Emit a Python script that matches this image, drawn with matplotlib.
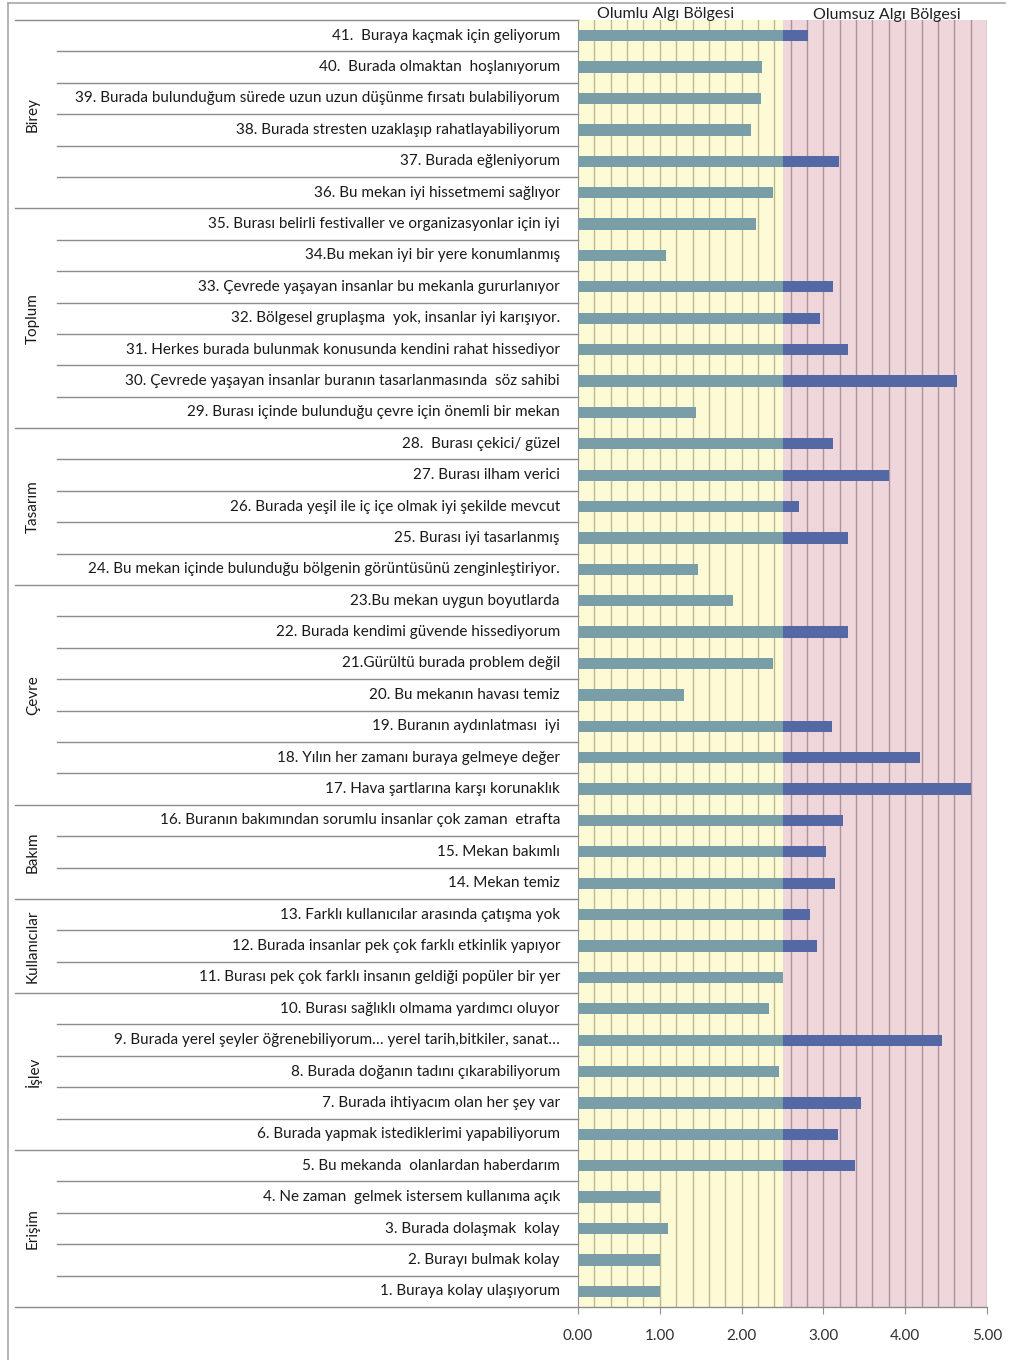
import numpy as np
import matplotlib
matplotlib.use("Agg")
import matplotlib.pyplot as plt
from matplotlib.transforms import blended_transform_factory

plt.rcParams['font.family'] = ['Lato', 'DejaVu Sans']

# --- data: item 1 .. 41 (bottom to top) ---
items = [
    "1. Buraya kolay ulaşıyorum",
    "2. Burayı bulmak kolay",
    "3. Burada dolaşmak  kolay",
    "4. Ne zaman  gelmek istersem kullanıma açık",
    "5. Bu mekanda  olanlardan haberdarım",
    "6. Burada yapmak istediklerimi yapabiliyorum",
    "7. Burada ihtiyacım olan her şey var",
    "8. Burada doğanın tadını çıkarabiliyorum",
    "9. Burada yerel şeyler öğrenebiliyorum… yerel tarih,bitkiler, sanat…",
    "10. Burası sağlıklı olmama yardımcı oluyor",
    "11. Burası pek çok farklı insanın geldiği popüler bir yer",
    "12. Burada insanlar pek çok farklı etkinlik yapıyor",
    "13. Farklı kullanıcılar arasında çatışma yok",
    "14. Mekan temiz",
    "15. Mekan bakımlı",
    "16. Buranın bakımından sorumlu insanlar çok zaman  etrafta",
    "17. Hava şartlarına karşı korunaklık",
    "18. Yılın her zamanı buraya gelmeye değer",
    "19. Buranın aydınlatması  iyi",
    "20. Bu mekanın havası temiz",
    "21.Gürültü burada problem değil",
    "22. Burada kendimi güvende hissediyorum",
    "23.Bu mekan uygun boyutlarda",
    "24. Bu mekan içinde bulunduğu bölgenin görüntüsünü zenginleştiriyor.",
    "25. Burası iyi tasarlanmış",
    "26. Burada yeşil ile iç içe olmak iyi şekilde mevcut",
    "27. Burası ilham verici",
    "28.  Burası çekici/ güzel",
    "29. Burası içinde bulunduğu çevre için önemli bir mekan",
    "30. Çevrede yaşayan insanlar buranın tasarlanmasında  söz sahibi",
    "31. Herkes burada bulunmak konusunda kendini rahat hissediyor",
    "32. Bölgesel gruplaşma  yok, insanlar iyi karışıyor.",
    "33. Çevrede yaşayan insanlar bu mekanla gururlanıyor",
    "34.Bu mekan iyi bir yere konumlanmış",
    "35. Burası belirli festivaller ve organizasyonlar için iyi",
    "36. Bu mekan iyi hissetmemi sağlıyor",
    "37. Burada eğleniyorum",
    "38. Burada stresten uzaklaşıp rahatlayabiliyorum",
    "39. Burada bulunduğum sürede uzun uzun düşünme fırsatı bulabiliyorum",
    "40.  Burada olmaktan  hoşlanıyorum",
    "41.  Buraya kaçmak için geliyorum",
]
values = [1.00, 1.00, 1.10, 1.00, 3.39, 3.18, 3.46, 2.46, 4.45, 2.33,
          2.51, 2.92, 2.84, 3.14, 3.03, 3.24, 4.80, 4.18, 3.10, 1.30,
          2.38, 3.30, 1.90, 1.47, 3.30, 2.70, 3.80, 3.12, 1.44, 4.63,
          3.30, 2.96, 3.12, 1.08, 2.17, 2.38, 3.19, 2.11, 2.24, 2.25,
          2.81]
groups = ["Erişim", "İşlev", "Kullanıcılar", "Bakım", "Çevre", "Tasarım", "Toplum", "Birey"]
group_sizes = [5, 5, 3, 3, 7, 5, 7, 6]

split = 2.5
teal = '#7a9ea8'
blue = '#5468a6'

W, H = 1010, 1360
fig = plt.figure(figsize=(W / 100, H / 100), dpi=100)
ax = fig.add_axes([578 / W, 1 - 1307 / H, (987 - 578) / W, (1307 - 20) / H])

n = len(values)
y = np.arange(1, n + 1)
ax.set_xlim(0, 5)
ax.set_ylim(0.5, n + 0.5)

# background zones
ax.axvspan(0, split, color='#fdfbd6', zorder=0, lw=0)
ax.axvspan(split, 5, color='#efd6db', zorder=0, lw=0)
for g in np.arange(0.2, 5.01, 0.2):
    c = '#bdb993' if g < split else '#ab939e'
    ax.axvline(g, color=c, lw=1, zorder=1)

v = np.array(values)
ax.barh(y, np.minimum(v, split), height=0.36, color=teal, zorder=3)
ax.barh(y, np.clip(v - split, 0, None), left=split, height=0.36, color=blue, zorder=3)

ax.set_yticks([])
ax.set_xticks(np.arange(0, 5.01, 1))
ax.set_xticklabels([f"{t:.2f}" for t in np.arange(0, 5.01, 1)], fontsize=11, color='#303030')
ax.tick_params(axis='x', length=5, color='#909090', pad=11)
for s in ['top', 'right']:
    ax.spines[s].set_visible(False)
ax.spines['left'].set_color('#909090')
ax.spines['bottom'].set_visible(False)

# zone titles
tb = blended_transform_factory(ax.transData, fig.transFigure)
ax.text(1.07, 1 - 14 / H, "Olumlu Algı Bölgesi", transform=tb, ha='center', va='center',
        fontsize=11.5, color='#202020')
ax.text(3.77, 1 - 15 / H, "Olumsuz Algı Bölgesi", transform=tb, ha='center', va='center',
        fontsize=11.5, color='#202020')

# left table: labels and lines
tr = blended_transform_factory(fig.transFigure, ax.transData)
for yi, lab in zip(y, items):
    ax.text(560 / W, yi, lab, transform=tr, ha='right', va='center', fontsize=11,
            color='#1a1a1a', clip_on=False)

line_c = '#8c8c8c'
bounds = np.cumsum([0] + group_sizes)
group_edges = set(bounds.tolist())
for k in range(0, n + 1):
    yy = k + 0.5
    x0 = 15 / W if k in group_edges else 57 / W
    x1 = 987 / W if k == 0 else 578 / W
    ax.plot([x0, x1], [yy, yy], transform=tr, color=line_c, lw=1, clip_on=False)

for gname, b0, b1 in zip(groups, bounds[:-1], bounds[1:]):
    ax.text(33 / W, (b0 + b1) / 2 + 0.5, gname, transform=tr, rotation=90,
            ha='center', va='center', fontsize=11, color='#1a1a1a')

# outer frame
fig.add_artist(plt.Line2D([8 / W, 8 / W], [0, 1 - 3 / H], transform=fig.transFigure,
                          color='#a8a8a8', lw=1.2))
fig.add_artist(plt.Line2D([8 / W, 1005 / W], [1 - 3 / H, 1 - 3 / H], transform=fig.transFigure,
                          color='#a8a8a8', lw=1.2))

fig.savefig("out.png", dpi=100)
